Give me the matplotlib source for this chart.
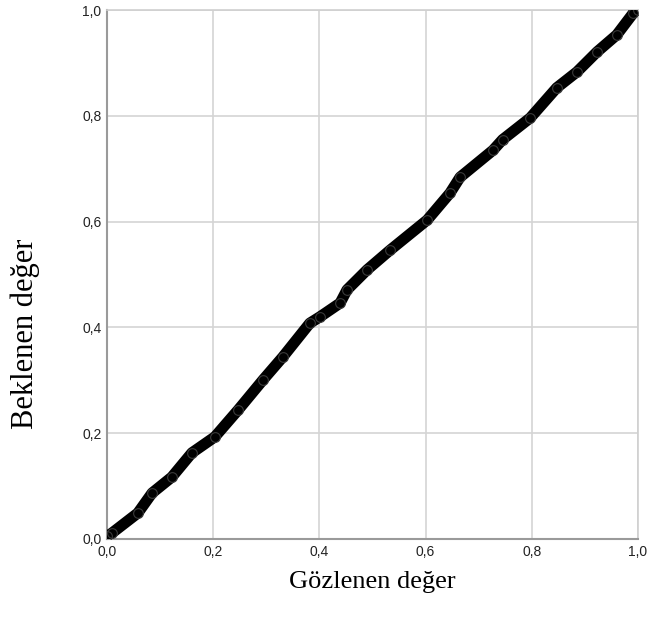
import matplotlib
matplotlib.use("Agg")
import matplotlib.pyplot as plt

observed = [0.0, 0.009, 0.058, 0.085, 0.122, 0.160, 0.203, 0.247, 0.294, 0.331,
            0.382, 0.401, 0.439, 0.452, 0.490, 0.533, 0.603, 0.646, 0.665, 0.727,
            0.745, 0.797, 0.847, 0.885, 0.923, 0.960, 0.991, 1.0]
expected = [0.005, 0.011, 0.049, 0.087, 0.117, 0.163, 0.193, 0.244, 0.301, 0.344,
            0.408, 0.420, 0.446, 0.471, 0.509, 0.546, 0.603, 0.654, 0.684, 0.735,
            0.755, 0.796, 0.853, 0.883, 0.921, 0.953, 0.994, 1.0]
ticks = [0.0, 0.2, 0.4, 0.6, 0.8, 1.0]
tick_labels = ["0,0", "0,2", "0,4", "0,6", "0,8", "1,0"]

fig = plt.figure(figsize=(6.49, 6.35), dpi=100)
ax = fig.add_axes([107/649, 96/635, 531/649, 529/635])

ax.plot(observed, expected, color="black", lw=8, solid_capstyle="round",
        solid_joinstyle="round", zorder=3)
ax.plot(observed, expected, linestyle="none", marker="o", markersize=7,
        markerfacecolor="none", markeredgecolor="#3a3a3a", markeredgewidth=0.8, zorder=4)

ax.set_xlim(0, 1)
ax.set_ylim(0, 1)
ax.set_xticks(ticks)
ax.set_xticklabels(tick_labels)
ax.set_yticks(ticks)
ax.set_yticklabels(tick_labels)
ax.tick_params(length=0, labelsize=10, colors="#222222", pad=4,
               labelfontfamily="Liberation Sans")
ax.grid(True, color="#d4d4d4", lw=1.2, zorder=0)
ax.set_axisbelow(True)
for s in ["top", "right"]:
    ax.spines[s].set_color("#d0d0d0")
    ax.spines[s].set_linewidth(1.2)
for s in ["left", "bottom"]:
    ax.spines[s].set_color("#9a9a9a")
    ax.spines[s].set_linewidth(1.5)

fig.text(372/649, 1 - 582/635, "Gözlenen değer", family="Liberation Serif",
         fontsize=19, ha="center", va="center")
fig.text(25/649, 1 - 334/635, "Beklenen değer", family="Liberation Serif",
         fontsize=22, ha="center", va="center", rotation=90)

fig.savefig("out.png", dpi=100, facecolor="white")
